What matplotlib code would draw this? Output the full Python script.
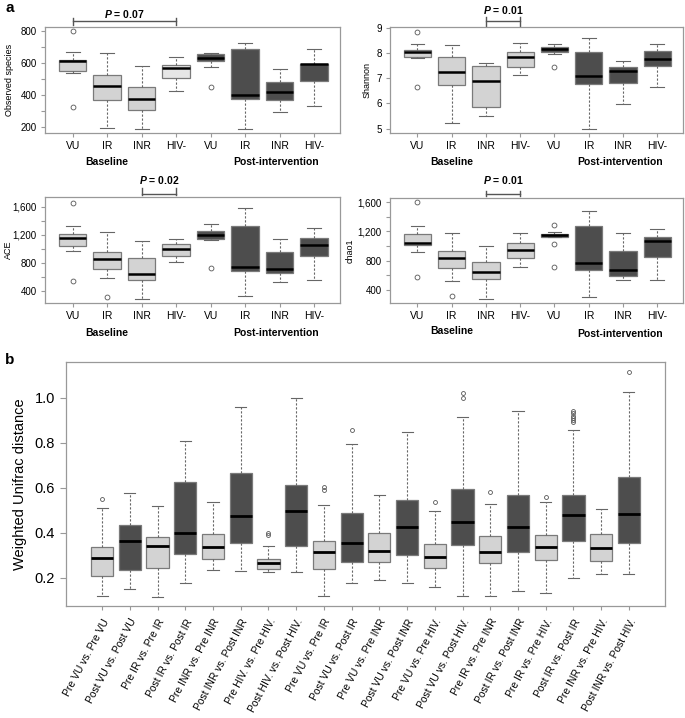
import matplotlib.pyplot as plt
from matplotlib.ticker import FixedLocator

plt.rcParams['font.family'] = ['Liberation Sans', 'DejaVu Sans']
plt.rcParams['mathtext.fontset'] = 'custom'
plt.rcParams['mathtext.it'] = 'Liberation Sans:italic:bold'

groups = ["VU", "IR", "INR", "HIV-", "VU", "IR", "INR", "HIV-"]

# panel a: observed species
obs_med = [612, 459, 378, 566, 634, 399, 417, 597]
obs_q1 = [552, 372, 308, 508, 610, 376, 366, 490]
obs_q3 = [620, 525, 448, 589, 659, 686, 479, 597]
obs_lo = [535, 194, 188, 428, 577, 188, 295, 332]
obs_hi = [670, 665, 579, 639, 661, 728, 562, 690]
obs_out = [[797, 324], [], [], [], [452], [], [], []]

# Shannon
sha_med = [8.02, 7.26, 6.88, 7.85, 8.17, 7.07, 7.29, 7.75]
sha_q1 = [7.85, 6.75, 5.88, 7.45, 8.02, 6.78, 6.80, 7.49]
sha_q3 = [8.12, 7.86, 7.49, 8.02, 8.25, 8.02, 7.45, 8.08]
sha_lo = [7.79, 5.24, 5.50, 7.14, 7.95, 4.97, 5.96, 6.64]
sha_hi = [8.37, 8.32, 7.62, 8.41, 8.37, 8.58, 7.69, 8.34]
sha_out = [[8.84, 6.64], [], [], [], [7.43], [], [], []]

# ACE
ace_med = [1150, 850, 634, 991, 1197, 733, 709, 1047]
ace_q1 = [1038, 714, 555, 892, 1141, 681, 648, 897]
ace_q3 = [1211, 953, 869, 1061, 1258, 1319, 953, 1155]
ace_lo = [962, 578, 283, 812, 1127, 320, 522, 555]
ace_hi = [1323, 1244, 1103, 1141, 1352, 1577, 1131, 1291]
ace_out = [[1656, 541], [311], [], [], [719], [], [], []]

# chao1
chao_med = [1043, 839, 640, 943, 1147, 762, 672, 1070]
chao_q1 = [1020, 703, 549, 830, 1125, 672, 595, 853]
chao_q3 = [1170, 934, 776, 1043, 1170, 1274, 934, 1125]
chao_lo = [921, 522, 273, 717, 1125, 300, 536, 536]
chao_hi = [1269, 1179, 998, 1183, 1192, 1487, 1179, 1238]
chao_out = [[1600, 572], [319], [], [], [1283, 1034, 708], [], [], []]

# panel b: weighted unifrac distance
pairs = ["Pre VU vs. Pre VU", "Post VU vs. Post VU", "Pre IR vs. Pre IR",
         "Post IR vs. Post IR", "Pre INR vs. Pre INR", "Post INR vs. Post INR",
         "Pre HIV. vs. Pre HIV.", "Post HIV. vs. Post HIV.", "Pre VU vs. Pre IR",
         "Post VU vs. Post IR", "Pre VU vs. Pre INR", "Post VU vs. Post INR",
         "Pre VU vs. Pre HIV.", "Post VU vs. Post HIV.", "Pre IR vs. Pre INR",
         "Post IR vs. Post INR", "Pre IR vs. Pre HIV.", "Post IR vs. Post IR",
         "Pre INR vs. Pre HIV.", "Post INR vs. Post HIV."]
uni_med = [0.286, 0.364, 0.341, 0.397, 0.335, 0.474, 0.264, 0.496, 0.313, 0.356,
           0.319, 0.424, 0.290, 0.449, 0.316, 0.427, 0.338, 0.479, 0.330, 0.481]
uni_q1 = [0.207, 0.234, 0.241, 0.305, 0.281, 0.356, 0.237, 0.342, 0.237, 0.271,
          0.268, 0.301, 0.241, 0.345, 0.267, 0.316, 0.279, 0.363, 0.276, 0.356]
uni_q3 = [0.335, 0.434, 0.382, 0.627, 0.393, 0.667, 0.283, 0.612, 0.364, 0.486,
          0.397, 0.545, 0.348, 0.593, 0.386, 0.567, 0.390, 0.567, 0.394, 0.646]
uni_lo = [0.118, 0.150, 0.113, 0.178, 0.233, 0.230, 0.224, 0.227, 0.118, 0.177,
          0.190, 0.177, 0.158, 0.118, 0.118, 0.142, 0.130, 0.197, 0.215, 0.216]
uni_hi = [0.508, 0.575, 0.520, 0.809, 0.535, 0.957, 0.341, 1.0, 0.523, 0.796,
          0.567, 0.849, 0.496, 0.916, 0.526, 0.941, 0.538, 0.856, 0.505, 1.027]
uni_out = [[0.55], [], [], [], [], [], [0.39, 0.40], [], [0.601, 0.59], [0.856],
           [], [], [0.535], [1.019, 0.997], [0.582], [], [0.557],
           [0.942, 0.93, 0.92, 0.91, 0.90, 0.893], [], [1.116]]

LIGHT = '#d3d3d3'
DARK = '#4d4d4d'
EDGE = '#7a7a7a'
SPINE = '#999999'


def make_stats(med, q1, q3, lo, hi, out):
    return [dict(med=m, q1=a, q3=b, whislo=l, whishi=h, fliers=o)
            for m, a, b, l, h, o in zip(med, q1, q3, lo, hi, out)]


def draw_boxes(ax, stats, colors, medlw=1.8, ms=3.5):
    pos = list(range(1, len(stats) + 1))
    bp = ax.bxp(stats, positions=pos, widths=0.8, patch_artist=True,
                capwidths=0.4,
                boxprops=dict(edgecolor=EDGE, linewidth=0.9),
                whiskerprops=dict(color='#666666', linewidth=0.8, linestyle=(0, (2, 1.6))),
                capprops=dict(color='#666666', linewidth=0.8),
                medianprops=dict(color='black', linewidth=medlw, solid_capstyle='butt'),
                flierprops=dict(marker='o', markersize=ms, markerfacecolor='none',
                                markeredgecolor='#555555', markeredgewidth=0.6))
    for patch, c in zip(bp['boxes'], colors):
        patch.set_facecolor(c)
    for sp in ax.spines.values():
        sp.set_color(SPINE)
        sp.set_linewidth(0.9)
    ax.tick_params(color=SPINE, length=3, width=0.8, labelsize=7, pad=3)
    return pos


def bracket(ax, x0, x1, yline, ytop, ybot, ytext, label):
    tr = ax.get_xaxis_transform()
    kw = dict(transform=tr, clip_on=False, color='#555555', lw=1.0)
    ax.plot([x0, x1], [yline, yline], **kw)
    ax.plot([x0, x0], [ytop, ybot], **kw)
    ax.plot([x1, x1], [ytop, ybot], **kw)
    ax.text((x0 + x1) / 2, ytext, r'$P$ = ' + label, transform=tr, ha='center',
            va='center', fontsize=7.5, fontweight='bold')


def setup_top(ax, ylim, ticks, labels, ylabel, labx, yb=-0.27, yp=-0.27):
    ax.set_xlim(0.2, 8.75)
    ax.set_ylim(*ylim)
    ax.set_xticks(range(1, 9))
    ax.set_xticklabels(groups, fontsize=7.5)
    ax.yaxis.set_major_locator(FixedLocator(ticks))
    ax.set_yticklabels(labels, fontsize=7)
    ax.set_ylabel(ylabel, fontsize=6.5)
    ax.yaxis.set_label_coords(labx, 0.5)
    tr = ax.get_xaxis_transform()
    ax.text(2, yb, 'Baseline', transform=tr, ha='center', va='center',
            fontsize=7.5, fontweight='bold')
    ax.text(6.9, yp, 'Post-intervention', transform=tr, ha='center', va='center',
            fontsize=7.5, fontweight='bold')


fig = plt.figure(figsize=(6.85, 7.18), dpi=100)


def rect(l, t, r, b):
    return [l / 685, 1 - b / 718, (r - l) / 685, (b - t) / 718]


ax1 = fig.add_axes(rect(45, 27, 340, 133))
ax2 = fig.add_axes(rect(390, 27, 683, 133))
ax3 = fig.add_axes(rect(45, 197, 340, 303))
ax4 = fig.add_axes(rect(390, 198, 683, 303))
axb = fig.add_axes(rect(66, 362, 665, 606))

top_colors = [LIGHT] * 4 + [DARK] * 4
obs_colors = [LIGHT, LIGHT, LIGHT, '#e6e6e6'] + [DARK] * 4

draw_boxes(ax1, make_stats(obs_med, obs_q1, obs_q3, obs_lo, obs_hi, obs_out), obs_colors)
setup_top(ax1, (163, 825), list(range(200, 900, 100)),
          ['200', '', '400', '', '600', '', '800'], 'Observed species', -0.105)
bracket(ax1, 1, 4, 1.057, 1.085, 1.019, 1.123, '0.07')

draw_boxes(ax2, make_stats(sha_med, sha_q1, sha_q3, sha_lo, sha_hi, sha_out), top_colors)
setup_top(ax2, (4.83, 9.03), [5, 6, 7, 8, 9], ['5', '6', '7', '8', '9'], 'Shannon', -0.062)
bracket(ax2, 3, 4, 1.057, 1.094, 1.009, 1.165, '0.01')

draw_boxes(ax3, make_stats(ace_med, ace_q1, ace_q3, ace_lo, ace_hi, ace_out), top_colors)
setup_top(ax3, (227, 1736), list(range(400, 1800, 200)),
          ['400', '', '800', '', '1,200', '', '1,600'], 'ACE', -0.11, yb=-0.28, yp=-0.28)
bracket(ax3, 3, 4, 1.03, 1.085, 1.019, 1.16, '0.02')

draw_boxes(ax4, make_stats(chao_med, chao_q1, chao_q3, chao_lo, chao_hi, chao_out), top_colors)
setup_top(ax4, (219, 1659), list(range(400, 1800, 200)),
          ['400', '', '800', '', '1,200', '', '1,600'], 'chao1', -0.12, yb=-0.265, yp=-0.295)
bracket(ax4, 3, 4, 1.038, 1.067, 1.019, 1.17, '0.01')

# panel b
b_colors = [LIGHT if i % 2 == 0 else DARK for i in range(len(pairs))]
pos = draw_boxes(axb, make_stats(uni_med, uni_q1, uni_q3, uni_lo, uni_hi, uni_out),
                 b_colors, medlw=2.0, ms=2.8)
axb.set_xlim(-0.3, 21.3)
axb.set_ylim(0.074, 1.159)
axb.set_yticks([0.2, 0.4, 0.6, 0.8, 1.0])
axb.set_yticklabels(['0.2', '0.4', '0.6', '0.8', '1.0'], fontsize=10.5)
axb.tick_params(axis='y', length=4, pad=4)
axb.set_xticks(pos)
axb.set_xticklabels(pairs, rotation=62, ha='right', rotation_mode='anchor',
                    fontsize=7.5)
axb.tick_params(axis='x', length=3, pad=5)
axb.set_ylabel('Weighted Unifrac distance', fontsize=10.5)
axb.yaxis.set_label_coords(-0.065, 0.5)

fig.text(5 / 685, 1 - 8 / 718, 'a', fontsize=11, fontweight='bold', va='center')
fig.text(5 / 685, 1 - 360 / 718, 'b', fontsize=11, fontweight='bold', va='center')

fig.savefig('out.png', dpi=100)
